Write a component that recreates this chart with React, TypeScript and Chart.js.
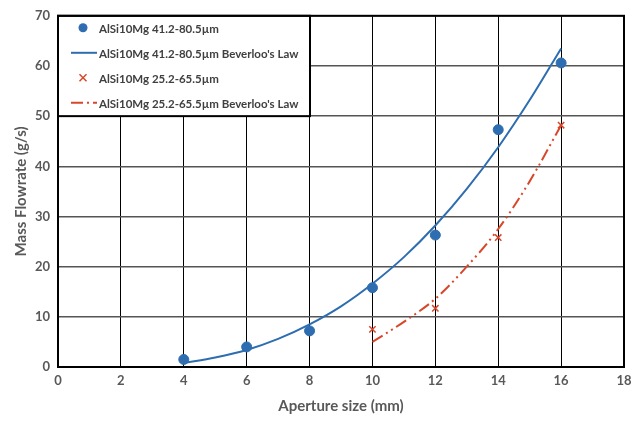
import React, { useEffect, useRef } from "react";
import { Chart, registerables } from "chart.js";

Chart.register(...registerables);

const measuredX1 = [4, 6, 8, 10, 12, 14, 16];
const measuredY1 = [1.5, 4.0, 7.2, 15.8, 26.3, 47.3, 60.6];
const lawX1 = [4, 5, 6, 7, 8, 9, 10, 11, 12, 13, 14, 15, 16];
const lawY1 = [0.8, 1.9, 3.4, 5.6, 8.5, 12.1, 16.6, 21.9, 28.2, 35.5, 43.8, 53.2, 63.5];
const measuredX2 = [10, 12, 14, 16];
const measuredY2 = [7.5, 11.7, 25.8, 48.2];
const lawX2 = [10, 11, 12, 13, 14, 15, 16];
const lawY2 = [5.0, 9.0, 13.6, 20.0, 27.5, 37.0, 48.2];
const seriesNames = [
  "AlSi10Mg 41.2-80.5µm",
  "AlSi10Mg 41.2-80.5µm Beverloo's Law",
  "AlSi10Mg 25.2-65.5µm",
  "AlSi10Mg 25.2-65.5µm Beverloo's Law",
];
const xTitle = "Aperture size (mm)";
const yTitle = "Mass Flowrate (g/s)";

const BLUE = "#2E6DB0";
const RED = "#D8472A";
const FONT = "Lato, 'Open Sans', sans-serif";

const zip = (xs: number[], ys: number[]) => xs.map((x, i) => ({ x, y: ys[i] }));

export default function App() {
  const ref = useRef<HTMLCanvasElement | null>(null);
  useEffect(() => {
    if (!ref.current) return;
    const legendPlugin = {
      id: "boxLegend",
      afterDatasetsDraw(chart: any) {
        const { ctx, chartArea, scales } = chart;
        const left = chartArea.left;
        const top = chartArea.top;
        const right = 310;
        const bottom = scales.y.getPixelForValue(50);
        ctx.save();
        ctx.fillStyle = "#fff";
        ctx.fillRect(left, top, right - left, bottom - top);
        ctx.strokeStyle = "#000";
        ctx.lineWidth = 2;
        ctx.strokeRect(left, top, right - left, bottom - top);
        const rows = [27, 52, 77, 102].map((v) => top + v - 15);
        ctx.font = `bold 11.5px ${FONT}`;
        ctx.textBaseline = "middle";
        ctx.textAlign = "left";
        const mx = 83;
        ctx.fillStyle = BLUE;
        ctx.beginPath();
        ctx.arc(mx, rows[0], 4.5, 0, Math.PI * 2);
        ctx.fill();
        ctx.strokeStyle = BLUE;
        ctx.lineWidth = 2;
        ctx.setLineDash([]);
        ctx.beginPath();
        ctx.moveTo(71, rows[1]);
        ctx.lineTo(97, rows[1]);
        ctx.stroke();
        ctx.strokeStyle = RED;
        ctx.lineWidth = 1.5;
        ctx.beginPath();
        ctx.moveTo(mx - 3.5, rows[2] - 3.5);
        ctx.lineTo(mx + 3.5, rows[2] + 3.5);
        ctx.moveTo(mx + 3.5, rows[2] - 3.5);
        ctx.lineTo(mx - 3.5, rows[2] + 3.5);
        ctx.stroke();
        ctx.lineWidth = 2;
        ctx.setLineDash([12, 4, 2, 4]);
        ctx.beginPath();
        ctx.moveTo(71, rows[3]);
        ctx.lineTo(97, rows[3]);
        ctx.stroke();
        ctx.setLineDash([]);
        ctx.fillStyle = "#404040";
        seriesNames.forEach((n, i) => ctx.fillText(n, 99, rows[i] + 1));
        ctx.restore();
      },
      afterDraw(chart: any) {
        const { ctx, chartArea } = chart;
        ctx.save();
        ctx.strokeStyle = "#000";
        ctx.lineWidth = 2;
        ctx.strokeRect(chartArea.left, chartArea.top, chartArea.right - chartArea.left, chartArea.bottom - chartArea.top);
        ctx.restore();
      },
    };
    const chart = new Chart(ref.current, {
      type: "scatter",
      data: {
        datasets: [
          {
            label: seriesNames[0],
            data: zip(measuredX1, measuredY1),
            backgroundColor: BLUE,
            borderColor: BLUE,
            pointRadius: 5,
            pointStyle: "circle",
            showLine: false,
          },
          {
            label: seriesNames[1],
            data: zip(lawX1, lawY1),
            borderColor: BLUE,
            borderWidth: 2,
            pointRadius: 0,
            showLine: true,
            cubicInterpolationMode: "monotone",
          },
          {
            label: seriesNames[2],
            data: zip(measuredX2, measuredY2),
            borderColor: RED,
            backgroundColor: RED,
            pointStyle: "crossRot",
            pointRadius: 4.5,
            pointBorderWidth: 1.5,
            showLine: false,
          },
          {
            label: seriesNames[3],
            data: zip(lawX2, lawY2),
            borderColor: RED,
            borderWidth: 2,
            borderDash: [12, 4, 2, 4, 2, 4],
            pointRadius: 0,
            showLine: true,
            cubicInterpolationMode: "monotone",
          },
        ],
      },
      options: {
        animation: false,
        responsive: false,
        maintainAspectRatio: false,
        layout: { padding: { top: 15, right: 17, left: 8, bottom: 13 } },
        plugins: { legend: { display: false }, tooltip: { enabled: false } },
        scales: {
          x: {
            type: "linear",
            min: 0,
            max: 18,
            ticks: { stepSize: 2, color: "#595959", font: { family: FONT, size: 13, weight: "bold" }, padding: 6 },
            grid: { color: "#000", lineWidth: 1, drawTicks: false },
            border: { display: false },
            title: { display: true, text: xTitle, color: "#595959", font: { family: FONT, size: 15, weight: "bold" }, padding: { top: 4 } },
            afterFit: (s: any) => { s.height = 52; },
          },
          y: {
            min: 0,
            max: 70,
            ticks: { stepSize: 10, color: "#595959", font: { family: FONT, size: 13, weight: "bold" }, padding: 8 },
            grid: { color: "#555", lineWidth: 1.5, drawTicks: false },
            border: { display: false },
            title: { display: true, text: yTitle, color: "#595959", font: { family: FONT, size: 15, weight: "bold" }, padding: { bottom: 2 } },
            afterFit: (s: any) => { s.width = 50; },
          },
        },
      } as any,
      plugins: [legendPlugin],
    });
    return () => chart.destroy();
  }, []);
  return (
    <div style={{ position: "fixed", left: 0, top: 0, width: 641, height: 432, background: "#fff" }}>
      <canvas ref={ref} width={641} height={432} style={{ width: 641, height: 432 }} />
    </div>
  );
}
